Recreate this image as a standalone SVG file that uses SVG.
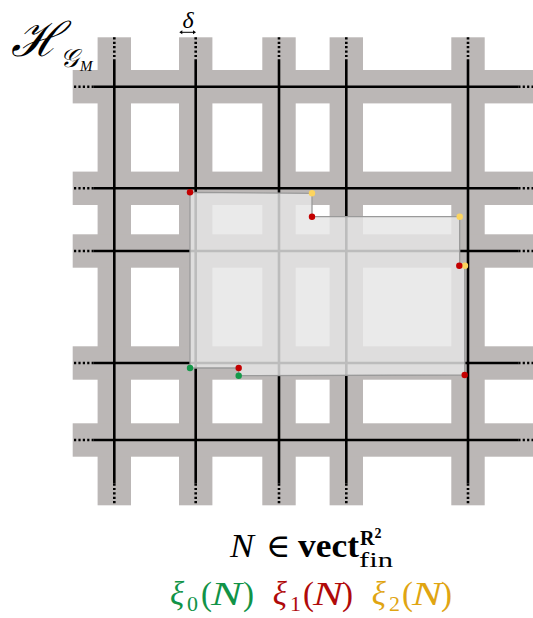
<svg xmlns="http://www.w3.org/2000/svg" width="533" height="618" viewBox="0 0 533 618">
<style>
.band{fill:#bbb7b6}
.ln{stroke:#000;stroke-width:2.6;fill:none}
.dot{stroke:#000;stroke-width:2.6;fill:none;stroke-dasharray:2.2 2.2}
.ov{fill:#e5e5e5;fill-opacity:0.82;stroke:#9a9a9a;stroke-width:1.3}
.r{fill:#c40000}.y{fill:#fcd45e}.g{fill:#14994a}
.m{font-family:"Liberation Serif","DejaVu Serif",serif}
.i{font-style:italic}
.cg{fill:#119347}.cr{fill:#b00a0a}.co{fill:#e0a512}
</style>
<rect width="533" height="618" fill="#fff"/>
<g id="grid">
<g id="bands">
<rect class="band" x="97.6" y="37.3" width="33.4" height="468"/>
<rect class="band" x="179" y="37.3" width="33.4" height="468"/>
<rect class="band" x="262.3" y="37.3" width="33.4" height="468"/>
<rect class="band" x="329.6" y="37.3" width="33.4" height="468"/>
<rect class="band" x="451.3" y="37.3" width="33.4" height="468"/>
<rect class="band" x="72.7" y="70" width="461" height="33.4"/>
<rect class="band" x="72.7" y="171.6" width="461" height="33.4"/>
<rect class="band" x="72.7" y="234.3" width="461" height="33.4"/>
<rect class="band" x="72.7" y="346.3" width="461" height="33.4"/>
<rect class="band" x="72.7" y="423.3" width="461" height="33.4"/>
</g>
<g id="edges">
<path class="ln" d="M114.3 59.3V483.5M195.7 59.3V483.5M279 59.3V483.5M346.3 59.3V483.5M468 59.3V483.5"/>
<path class="dot" d="M114.3 37.3V59.3M195.7 37.3V59.3M279 37.3V59.3M346.3 37.3V59.3M468 37.3V59.3"/>
<path class="dot" d="M114.3 483.5V505.3M195.7 483.5V505.3M279 483.5V505.3M346.3 483.5V505.3M468 483.5V505.3"/>
<path class="ln" d="M93.3 86.7H518.3M93.3 188.3H518.3M93.3 251H518.3M93.3 363H518.3M93.3 440H518.3"/>
<path class="dot" d="M74 86.7H93.3M74 188.3H93.3M74 251H93.3M74 363H93.3M74 440H93.3"/>
<path class="dot" d="M518.3 86.7H533M518.3 188.3H533M518.3 251H533M518.3 363H533M518.3 440H533"/>
</g>
</g>
<g id="module">
<path class="ov" d="M190 192.3L312 193.3V216.7H459.7V265.7H464.8V375L238.7 375.7V368H190Z"/>
</g>
<g id="points">
<circle class="r" cx="190" cy="192.3" r="3.2"/>
<circle class="y" cx="312" cy="193.3" r="3.2"/>
<circle class="r" cx="312" cy="216.7" r="3.2"/>
<circle class="y" cx="459.7" cy="216.7" r="3.2"/>
<circle class="y" cx="465" cy="265.7" r="3.2"/>
<circle class="r" cx="459.3" cy="265.7" r="3.2"/>
<circle class="r" cx="464.7" cy="375" r="3.2"/>
<circle class="g" cx="238.7" cy="375.7" r="3.2"/>
<circle class="r" cx="238.7" cy="368" r="3.2"/>
<circle class="g" cx="190" cy="368" r="3.2"/>
</g>
<g id="delta">
<text class="m i" x="188" y="28" font-size="24" text-anchor="middle">δ</text>
<path d="M180.5 32.3H194.5" stroke="#000" stroke-width="1"/>
<path d="M179.3 32.3l3-2v4zM196 32.3l-3-2v4z" fill="#000"/>
</g>
<g id="title" class="m i">
<text x="11" y="56" font-size="48">ℋ</text>
<text x="60" y="67" font-size="26">𝒢</text>
<text x="80" y="71" font-size="15">M</text>
</g>
<g id="caption" class="m">
<text x="230" y="557.3" font-size="33" class="i" textLength="24" lengthAdjust="spacingAndGlyphs">N</text>
<text x="266" y="557.3" font-size="33">∈</text>
<text x="298" y="557.3" font-size="33" font-weight="bold" textLength="61" lengthAdjust="spacingAndGlyphs">vect</text>
<text x="360" y="545" font-size="20" font-weight="bold">R<tspan font-size="14" dy="-7">2</tspan></text>
<text x="359" y="567" font-size="22" textLength="34" lengthAdjust="spacingAndGlyphs">fin</text>
<g class="cg" font-size="33">
<text x="170" y="605" class="i">ξ</text>
<text x="187" y="611" font-size="22">0</text>
<text x="201" y="605">(</text>
<text x="211" y="605" class="i" textLength="31" lengthAdjust="spacingAndGlyphs">N</text>
<text x="243" y="605">)</text>
</g>
<g class="cr" font-size="33">
<text x="272.7" y="605" class="i">ξ</text>
<text x="290" y="611" font-size="22">1</text>
<text x="303" y="605">(</text>
<text x="313" y="605" class="i" textLength="30" lengthAdjust="spacingAndGlyphs">N</text>
<text x="342" y="605">)</text>
</g>
<g class="co" font-size="33">
<text x="371.7" y="605" class="i">ξ</text>
<text x="389" y="611" font-size="22">2</text>
<text x="402" y="605">(</text>
<text x="412" y="605" class="i" textLength="30" lengthAdjust="spacingAndGlyphs">N</text>
<text x="441" y="605">)</text>
</g>
</g>
</svg>
